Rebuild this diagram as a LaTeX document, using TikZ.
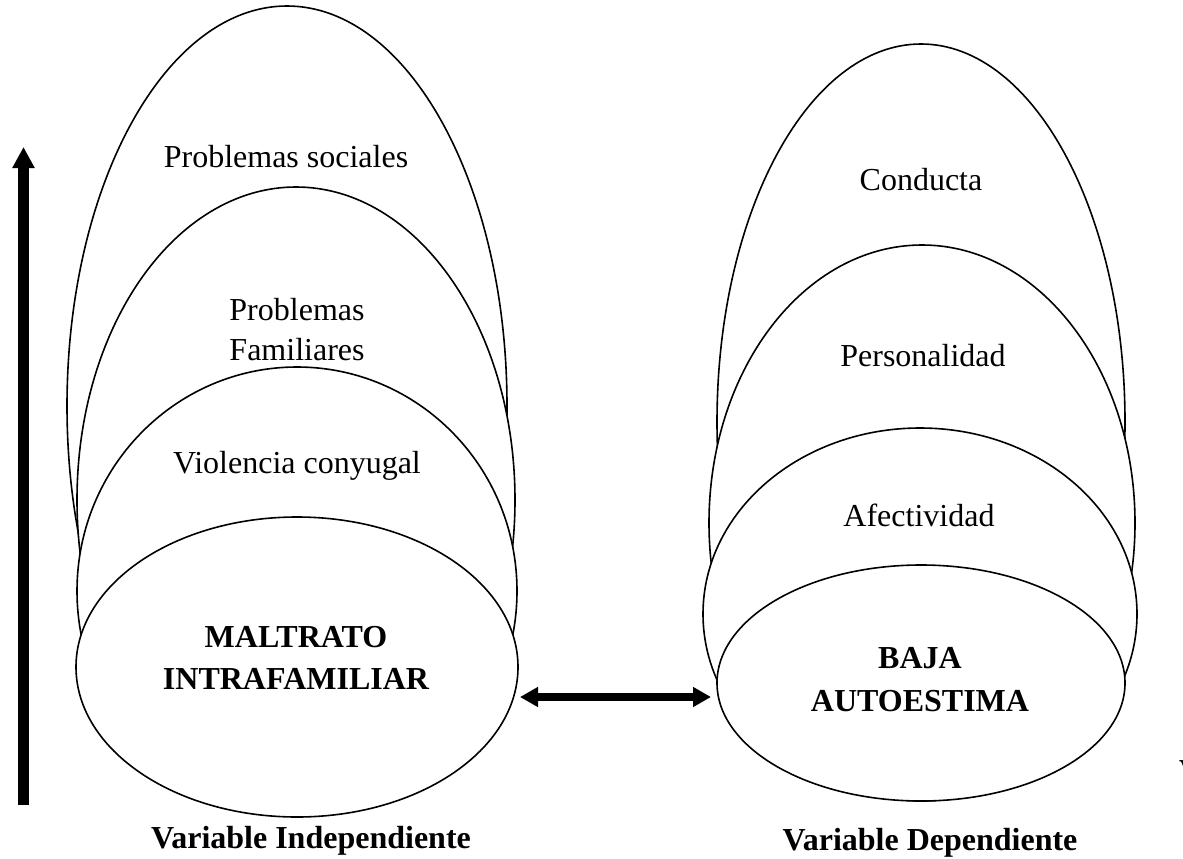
\documentclass[tikz,border=0pt]{standalone}
\usepackage{fontspec}
\setmainfont{Liberation Serif}
\usetikzlibrary{shapes.geometric,arrows.meta}
\begin{document}
\begin{tikzpicture}[x=1pt,y=-1pt,
  oval/.style={ellipse, draw=black, fill=white, line width=1.6pt, inner sep=0pt, outer sep=0pt},
  lbl/.style={inner sep=0pt, anchor=base, font=\fontsize{32}{41}\selectfont},
  blbl/.style={inner sep=0pt, anchor=base, font=\fontsize{32}{41}\selectfont\bfseries},
  thickarrow/.style={line width=10.5pt, -{Triangle[width=21pt,length=21pt]}},
  dblarrow/.style={line width=8pt, {Triangle[width=19pt,length=18pt]}-{Triangle[width=19pt,length=18pt]}}]
\useasboundingbox (0,0) rectangle (1183,859);
% left stack
\node[oval, minimum width=440pt, minimum height=800pt] (e1) at (287,406) {};
\node[lbl] (t1) at (286,167) {Problemas sociales};
\node[oval, minimum width=438pt, minimum height=626pt] (e2) at (296,500) {};
\node[lbl] (t2a) at (297,320) {Problemas};
\node[lbl] (t2b) at (297,360) {Familiares};
\node[oval, minimum width=440pt, minimum height=448pt] (e3) at (297,591) {};
\node[lbl] (t3) at (297,473) {Violencia conyugal};
\node[oval, minimum width=442pt, minimum height=300pt] (e4) at (297,667) {};
\node[blbl] (t4a) at (296,647) {MALTRATO};
\node[blbl] (t4b) at (296,689) {INTRAFAMILIAR};
% right stack
\node[oval, minimum width=408pt, minimum height=756pt] (r1) at (921,422) {};
\node[lbl] (s1) at (921,190) {Conducta};
\node[oval, minimum width=426pt, minimum height=556pt] (r2) at (922,523) {};
\node[lbl] (s2) at (923,366) {Personalidad};
\node[oval, minimum width=434pt, minimum height=372pt] (r3) at (920,614) {};
\node[lbl] (s3) at (919,526) {Afectividad};
\node[oval, minimum width=408pt, minimum height=236pt] (r4) at (921,683) {};
\node[blbl] (s4a) at (920,668) {BAJA};
\node[blbl] (s4b) at (920,711) {AUTOESTIMA};
% bottom captions
\node[blbl] (vi) at (311,848) {Variable Independiente};
\node[blbl] (vd) at (930,850) {Variable Dependiente};
\node[blbl, anchor=base west] (vx) at (1179,781) {V};
% arrows
\coordinate (vb) at (23.5,805);
\coordinate (vt) at (23.5,147);
\draw[thickarrow] (vb) -- (vt);
\coordinate (ha) at (520,697);
\coordinate (hb) at (711,697);
\draw[dblarrow] (ha) -- (hb);
\end{tikzpicture}
\end{document}
